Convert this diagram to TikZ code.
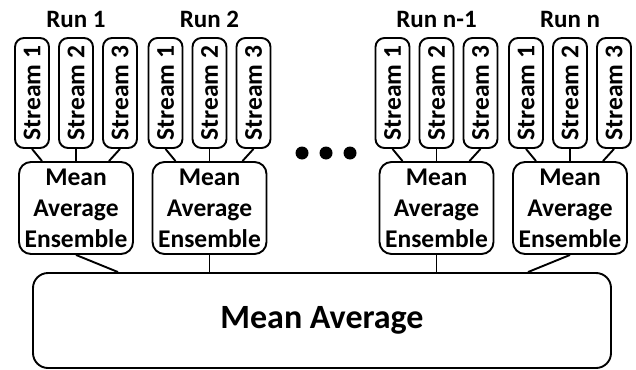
\documentclass[tikz,border=0pt]{standalone}
\usepackage{fontspec}
\setmainfont{Carlito}
\begin{document}
\begin{tikzpicture}[x=1pt,y=-1pt,
  box/.style={draw, line width=1.9pt, rounded corners=9pt, inner sep=0pt},
  streambox/.style={box, minimum width=34pt, minimum height=110pt, font=\fontsize{25.5}{30}\selectfont\bfseries},
  ensbox/.style={box, rounded corners=12pt, minimum width=114pt, minimum height=92pt, align=center, font=\fontsize{25.5}{31}\selectfont\bfseries},
  mainbox/.style={box, rounded corners=15pt, minimum width=578pt, minimum height=95pt, font=\fontsize{34}{40}\selectfont\bfseries},
  runlabel/.style={anchor=base, inner sep=0pt, font=\fontsize{25}{30}\selectfont\bfseries},
  conn/.style={line width=1.9pt},
  dot/.style={circle, fill=black, inner sep=0pt, minimum size=13pt}]
\useasboundingbox (0,0) rectangle (636,369);
\node[mainbox] (m) at (322,320.5) {Mean Average};
\foreach \g/\x/\lab in {1/76/{Run 1}, 2/209.5/{Run 2}, 3/436.5/{Run n-1}, 4/570/{Run n}} {
  \node[runlabel] (r\g) at (\x,28) {\lab};
  \node[streambox] (s\g a) at (\x-44,93) {\rotatebox{90}{Stream 1}};
  \node[streambox] (s\g b) at (\x,93) {\rotatebox{90}{Stream 2}};
  \node[streambox] (s\g c) at (\x+44,93) {\rotatebox{90}{Stream 3}};
  \node[ensbox] (e\g) at (\x,208) {Mean\\Average\\Ensemble};
  \draw[conn] (s\g a.south) -- ([xshift=-34pt]e\g.north);
  \draw[conn] (s\g b.south) -- (s\g b.south |- e\g.north);
  \draw[conn] (s\g c.south) -- ([xshift=33pt]e\g.north);
}
\draw[conn] (e1.south) -- ([xshift=-204pt]m.north);
\draw[conn] (e2.south) -- (e2.south |- m.north);
\draw[conn] (e3.south) -- (e3.south |- m.north);
\draw[conn] (e4.south) -- ([xshift=206pt]m.north);
\node[dot] (d1) at (302,153) {};
\node[dot] (d2) at (326,153) {};
\node[dot] (d3) at (350,153) {};
\end{tikzpicture}
\end{document}
